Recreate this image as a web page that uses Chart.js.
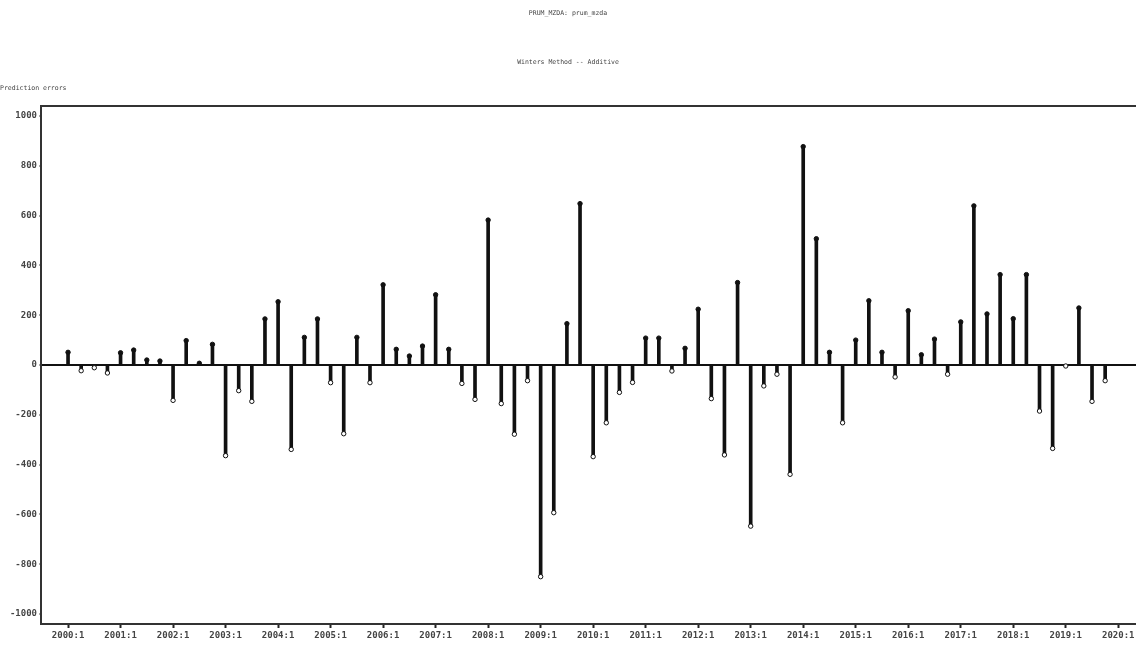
<!DOCTYPE html>
<html>
<head>
<meta charset="utf-8">
<script src="https://cdn.jsdelivr.net/npm/chart.js@4.4.1/dist/chart.umd.min.js"></script>
<style>
  html, body { margin: 0; padding: 0; background: #fff; }
  #wrap { position: relative; width: 1136px; height: 646px; overflow: hidden; }
  #wrap canvas { position: absolute; left: 0; top: 0; }
  .txt { position: absolute; font-family: 'DejaVu Sans Mono', monospace; font-size: 6.5px; color: #444; white-space: pre; }
</style>
</head>
<body>
<div id="wrap">
  <canvas id="chart" width="1136" height="646"></canvas>
  <div class="txt" style="left:0;width:1136px;text-align:center;top:9px">PRUM_MZDA: prum_mzda</div>
  <div class="txt" style="left:0;width:1136px;text-align:center;top:58px">Winters Method -- Additive</div>
  <div class="txt" style="left:0;top:84px">Prediction errors</div>
</div>
<script>
// Prediction errors, quarterly, 2000:1 .. 2019:4
const errors = [
   51,  -23,  -11,  -32,   49,   60,   20,   16,
 -142,   98,    7,   83, -364, -103, -146,  185,
  254, -339,  111,  185,  -71, -276,  111,  -71,
  322,   63,   36,   76,  282,   63,  -74, -138,
  582, -155, -278,  -63, -850, -593,  166,  648,
 -368, -232, -110,  -70,  108,  108,  -24,   67,
  224, -135, -361,  331, -647,  -84,  -37, -439,
  877,  507,   51, -232,  100,  258,   51,  -48,
  218,   41,  104,  -37,  173,  639,  205,  363,
  186,  363, -185, -335,   -4,  229, -146,  -63
];

// x tick labels (one per year, first quarter) and their quarter index
const xTickLabels = ['2000:1','2001:1','2002:1','2003:1','2004:1','2005:1','2006:1',
  '2007:1','2008:1','2009:1','2010:1','2011:1','2012:1','2013:1','2014:1','2015:1',
  '2016:1','2017:1','2018:1','2019:1','2020:1'];
const xTickPos = [0,4,8,12,16,20,24,28,32,36,40,44,48,52,56,60,64,68,72,76,80];
const yTicks = [-1000,-800,-600,-400,-200,0,200,400,600,800,1000];

const points = errors.map((v, i) => ({ x: i, y: v }));
const tickFont = { family: 'DejaVu Sans Mono', size: 9, weight: 'bold' };

// top edge of the plot frame
const frameTop = {
  id: 'frameTop',
  afterDraw(chart) {
    const { ctx, chartArea } = chart;
    ctx.save();
    ctx.strokeStyle = '#333';
    ctx.lineWidth = 2;
    ctx.beginPath();
    ctx.moveTo(chartArea.left, chartArea.top);
    ctx.lineTo(chartArea.right, chartArea.top);
    ctx.stroke();
    ctx.restore();
  }
};

new Chart(document.getElementById('chart'), {
  type: 'bar',
  data: {
    datasets: [
      {
        type: 'scatter',
        data: points,
        pointRadius: 2.2,
        pointBorderWidth: 1,
        pointBorderColor: '#111',
        pointBackgroundColor: errors.map(v => v >= 0 ? '#111' : '#fff'),
        order: 0
      },
      {
        type: 'bar',
        data: points,
        backgroundColor: '#111',
        barThickness: 3,
        order: 1
      }
    ]
  },
  options: {
    responsive: false,
    animation: false,
    layout: { autoPadding: false, padding: { top: 106, left: 0, right: 0, bottom: 0 } },
    plugins: { legend: { display: false }, tooltip: { enabled: false } },
    scales: {
      x: {
        type: 'linear',
        min: -2.06,
        max: 81.35,
        offset: false,
        afterBuildTicks: s => { s.ticks = xTickPos.map(v => ({ value: v })); },
        afterFit: s => { s.height = 22; s.paddingRight = 0; s.paddingLeft = 0; },
        ticks: {
          autoSkip: false,
          maxRotation: 0,
          padding: 2,
          color: '#444',
          font: tickFont,
          callback: (v) => xTickLabels[xTickPos.indexOf(v)]
        },
        grid: { offset: false, drawOnChartArea: false, tickLength: 4, tickColor: '#222', tickWidth: 2 },
        border: { display: true, color: '#333', width: 2 }
      },
      y: {
        min: -1040,
        max: 1040,
        afterBuildTicks: s => { s.ticks = yTicks.map(v => ({ value: v })); },
        afterFit: s => { s.width = 41; s.paddingTop = 0; s.paddingBottom = 0; },
        ticks: { padding: 2, color: '#444', font: tickFont, callback: v => String(v) },
        grid: {
          color: c => c.tick && c.tick.value === 0 ? '#111' : 'rgba(0,0,0,0)',
          lineWidth: c => c.tick && c.tick.value === 0 ? 2 : 0,
          tickColor: '#555',
          tickLength: 2,
          tickWidth: 1
        },
        border: { display: true, color: '#333', width: 2 }
      }
    }
  },
  plugins: [frameTop]
});
</script>
</body>
</html>
